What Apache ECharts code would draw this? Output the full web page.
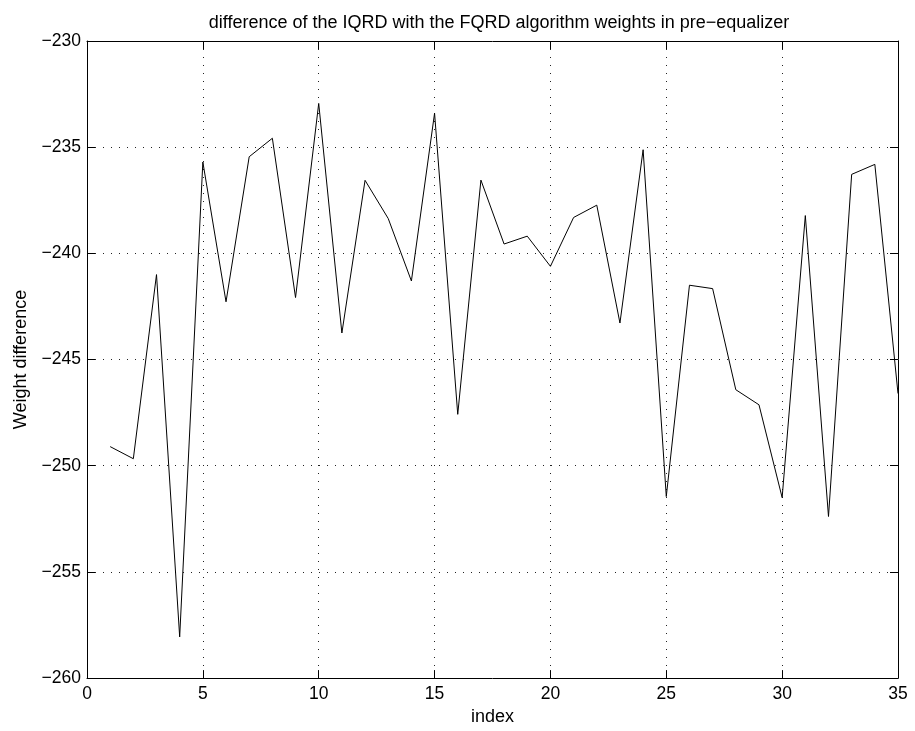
<!DOCTYPE html>
<html>
<head>
    <meta charset="utf-8" />
    <title>weight difference</title>
    <script src="https://cdn.jsdelivr.net/npm/echarts@6/dist/echarts.min.js"></script>
</head>
<body style="margin:0;background:#fff;">
    <div id="main" style="width:915px;height:731px;"></div>
    <script type="text/javascript">
        // index 1..35
        var indexData = [];
        for (var i = 1; i <= 35; i++) {
            indexData.push(i);
        }
        var weightDiff = [
            -249.1, -249.67, -241.0, -258.06, -235.7, -242.28, -235.45, -234.58, -242.08, -232.94,
            -243.75, -236.56, -238.36, -241.3, -233.4, -247.58, -236.55, -239.56, -239.19, -240.61,
            -238.31, -237.73, -243.28, -235.12, -251.45, -241.5, -241.66, -246.42, -247.13, -251.5,
            -238.22, -252.39, -236.28, -235.81, -246.6
        ];
        var xTicks = [0, 5, 10, 15, 20, 25, 30, 35];
        var yTicks = [-260, -255, -250, -245, -240, -235, -230];

        var fontName = 'Liberation Sans';
        function minusFmt(v) {
            return String(v).replace('-', '\u2212');
        }

        var myChart = echarts.init(document.getElementById('main'));
        var lst = [];
        for (var k = 0; k < weightDiff.length; k++) {
            lst.push([indexData[k], weightDiff[k]]);
        }

        var option = {
            backgroundColor: '#fff',
            animation: false,
            title: {
                text: 'difference of the IQRD with the FQRD algorithm weights in pre\u2212equalizer',
                left: 494,
                textAlign: 'center',
                top: 9,
                textStyle: { fontFamily: fontName, fontSize: 18, fontWeight: 'normal', color: '#000' }
            },
            grid: { left: 87, right: 17, top: 41, bottom: 50 },
            xAxis: [
                {
                    type: 'value',
                    min: xTicks[0],
                    max: xTicks[xTicks.length - 1],
                    interval: 5,
                    name: 'index',
                    nameLocation: 'middle',
                    nameGap: 29,
                    nameTextStyle: { fontFamily: fontName, fontSize: 18, color: '#000' },
                    axisLine: { onZero: false, lineStyle: { color: '#000', width: 1 } },
                    axisTick: { inside: true, length: 8, lineStyle: { color: '#000' } },
                    axisLabel: { fontFamily: fontName, fontSize: 17.5, color: '#000', margin: 7 },
                    splitLine: { show: true, lineStyle: { color: '#222', width: 1, type: [1, 7] } }
                },
                {
                    type: 'value',
                    position: 'top',
                    min: xTicks[0],
                    max: xTicks[xTicks.length - 1],
                    interval: 5,
                    axisLine: { onZero: false, lineStyle: { color: '#000', width: 1 } },
                    axisTick: { inside: true, length: 8, lineStyle: { color: '#000' } },
                    axisLabel: { show: false },
                    splitLine: { show: false }
                }
            ],
            yAxis: [
                {
                    type: 'value',
                    min: yTicks[0],
                    max: yTicks[yTicks.length - 1],
                    interval: 5,
                    name: 'Weight difference',
                    nameLocation: 'middle',
                    nameGap: 57,
                    nameTextStyle: { fontFamily: fontName, fontSize: 18, color: '#000' },
                    axisLine: { onZero: false, lineStyle: { color: '#000', width: 1 } },
                    axisTick: { inside: true, length: 8, lineStyle: { color: '#000' } },
                    axisLabel: { fontFamily: fontName, fontSize: 17.5, color: '#000', margin: 6, formatter: minusFmt },
                    splitLine: { show: true, lineStyle: { color: '#222', width: 1, type: [1, 7] } }
                },
                {
                    type: 'value',
                    position: 'right',
                    min: yTicks[0],
                    max: yTicks[yTicks.length - 1],
                    interval: 5,
                    axisLine: { onZero: false, lineStyle: { color: '#000', width: 1 } },
                    axisTick: { inside: true, length: 8, lineStyle: { color: '#000' } },
                    axisLabel: { show: false },
                    splitLine: { show: false }
                }
            ],
            series: [
                {
                    name: 'weight difference',
                    type: 'line',
                    data: lst,
                    symbol: 'none',
                    lineStyle: { color: '#000', width: 1 }
                }
            ]
        };
        myChart.setOption(option);
    </script>
</body>
</html>
